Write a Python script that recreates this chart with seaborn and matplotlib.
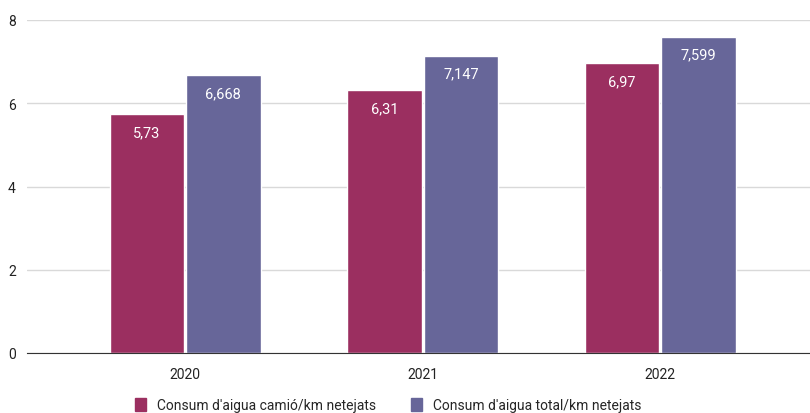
import pandas as pd
import seaborn as sns
import matplotlib.pyplot as plt
from matplotlib.patches import Patch

# data
years = ["2020", "2021", "2022"]
camio = [5.73, 6.31, 6.97]
total = [6.668, 7.147, 7.599]
series_names = ["Consum d'aigua camió/km netejats", "Consum d'aigua total/km netejats"]
colors = ["#9b2f60", "#676699"]

df = pd.DataFrame({
    "year": years * 2,
    "value": camio + total,
    "serie": [series_names[0]] * 3 + [series_names[1]] * 3,
})

sns.set_style("white")
plt.rcParams['font.family'] = ['Roboto', 'DejaVu Sans']

fig = plt.figure(figsize=(8.1, 4.14), dpi=100)
ax = fig.add_axes([27 / 810, 1 - 354 / 414, 1 - 27 / 810, (354 - 21) / 414])

sns.barplot(data=df, x="year", y="value", hue="serie", palette=colors,
            width=0.645, gap=0.03, ax=ax, legend=False, saturation=1)

for cont in ax.containers:
    ax.bar_label(cont, labels=[f"{v:g}".replace(".", ",") for v in cont.datavalues],
                 padding=-18, color="white", fontsize=10.5)

ax.set_ylim(0, 8)
ax.set_xlim(-0.665, 2.63)
ax.set_yticks([0, 2, 4, 6, 8])
ax.yaxis.grid(True, color="#d9d9d9", linewidth=1)
ax.set_axisbelow(True)
for s in ["top", "right", "left"]:
    ax.spines[s].set_visible(False)
ax.spines["bottom"].set_color("#333333")
ax.tick_params(axis="both", length=0, labelsize=10, colors="#222222")
ax.tick_params(axis="y", pad=8)
ax.tick_params(axis="x", pad=10)
ax.set_xlabel("")
ax.set_ylabel("")

handles = [Patch(color=c, label=n) for c, n in zip(colors, series_names)]
fig.legend(handles=handles, loc="lower left", bbox_to_anchor=(122 / 810, -0.028),
           ncol=2, frameon=False, fontsize=10, handlelength=0.8, handleheight=1.1,
           columnspacing=2.5, handletextpad=0.8)

fig.savefig("out.png", dpi=100)
